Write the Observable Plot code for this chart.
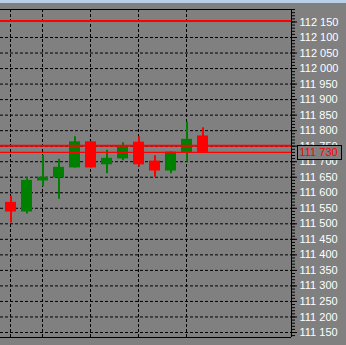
<!DOCTYPE html>
<html>
<head>
<meta charset="utf-8">
<script src="https://cdn.jsdelivr.net/npm/d3@7"></script>
<script src="https://cdn.jsdelivr.net/npm/@observablehq/plot@0.6"></script>
<style>
  html, body { margin: 0; padding: 0; background: #808080; overflow: hidden; }
  #strip { height: 3px; background: #b9cfe8; }
  svg { display: block; }
</style>
</head>
<body>
<div id="strip"></div>
<div id="chart"></div>
<script>
// ---- data ----
const open  = [111569, 111538, 111638, 111648, 111680, 111764, 111690, 111709, 111763, 111702, 111670, 111730, 111783];
const close = [111538, 111640, 111650, 111682, 111764, 111680, 111711, 111747, 111690, 111670, 111731, 111772, 111730];
const high  = [111589, 111648, 111721, 111708, 111780, 111764, 111737, 111761, 111780, 111719, 111731, 111828, 111809];
const low   = [111503, 111532, 111619, 111579, 111680, 111680, 111661, 111703, 111683, 111650, 111661, 111699, 111730];
const verticalGrid = [0, 2, 5, 8, 11];           // bar indices with vertical grid lines
const majorTicks = d3.range(111150, 112151, 50); // labelled price ticks
const minorTicks = d3.range(111140, 112191, 10); // small ticks
const levelLines = [112153, 111751];             // horizontal red levels
const bidLine = 111730;                           // current price
// ---------------

const bars = open.map((o, i) => ({i, open: o, close: close[i], high: high[i], low: low[i]}));
const fmt = d => d3.format(",")(d).replace(/,/g, " ");
const color = d => d.close >= d.open ? "#008000" : "#ff0000";

const yDomain = [111133.9, 112190.17];
const xDomain = [-0.625, 17.5625];

const plot = Plot.plot({
  width: 346,
  height: 342,
  marginTop: 6,
  marginBottom: 8,
  marginLeft: 0,
  marginRight: 55,
  x: {domain: xDomain, axis: null},
  y: {domain: yDomain},
  style: {background: "#808080", fontFamily: "Liberation Sans, Arial, sans-serif", fontSize: "11px", overflow: "visible"},
  marks: [
    Plot.ruleY(majorTicks.filter(v => v < 112150), {stroke: "black", strokeDasharray: "3,2"}),
    Plot.ruleX(verticalGrid, {stroke: "black", strokeDasharray: "3,2"}),
    Plot.ruleX(bars, {x: "i", y1: "low", y2: "high", stroke: color, strokeWidth: 2, dx: 0.5}),
    Plot.ruleX(bars, {x: "i", y1: "open", y2: "close", stroke: color, strokeWidth: 11}),
    Plot.ruleY(levelLines, {stroke: "#ff0000", strokeWidth: 2}),
    Plot.ruleY([bidLine], {stroke: "#ff0000", strokeWidth: 1.3}),
    Plot.ruleY([yDomain[0], yDomain[1]], {stroke: "black"}),
    Plot.ruleX([xDomain[1]], {stroke: "black"}),
    Plot.axisY({anchor: "right", ticks: minorTicks, tickSize: 3, tickFormat: () => "", label: null, stroke: "black"}),
    Plot.axisY({anchor: "right", ticks: majorTicks, tickSize: 5, tickPadding: 3, tickFormat: fmt, label: null, stroke: "black", fill: "white", fontSize: 11}),
    Plot.text([bidLine], {y: d => d, text: fmt, frameAnchor: "right", dx: 8, textAnchor: "start", fill: "#ff0000", fontSize: 11})
  ]
});

document.getElementById("chart").appendChild(plot);

// current price box behind the red label
const svg = d3.select(plot);
const yc = Math.round(plot.scale("y").apply(bidLine));
const lastG = plot.lastElementChild;
svg.append("rect")
  .attr("x", 297.5).attr("y", yc - 6.5)
  .attr("width", 44).attr("height", 14)
  .attr("fill", "#808080").attr("stroke", "black");
plot.appendChild(lastG);
</script>
</body>
</html>
